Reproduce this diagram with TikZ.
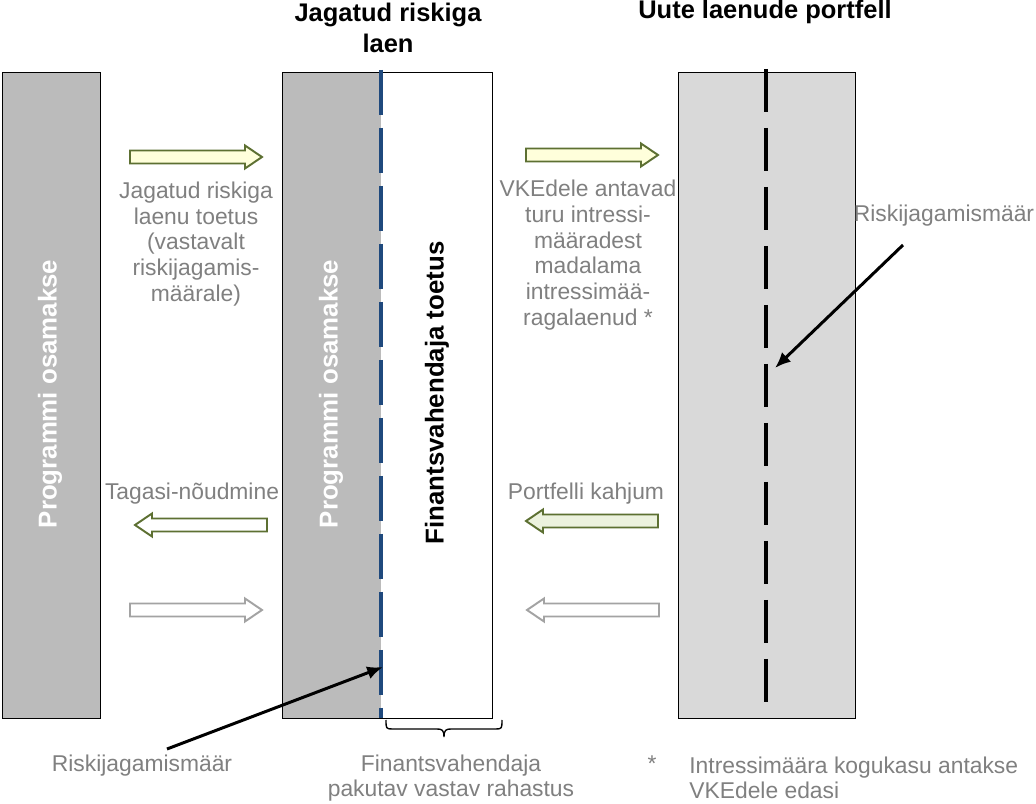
\documentclass[tikz,border=0pt]{standalone}
\usepackage{fontspec}
\setmainfont{Liberation Sans}
\usetikzlibrary{arrows.meta}
\definecolor{riskbardark}{rgb}{0.733,0.733,0.733}
\definecolor{riskbarlight}{rgb}{0.851,0.851,0.851}
\definecolor{riskdashblue}{rgb}{0.122,0.286,0.490}
\definecolor{risktextgray}{rgb}{0.502,0.502,0.502}
\definecolor{riskarrowolive}{rgb}{0.365,0.439,0.196}
\definecolor{riskarrowfill}{rgb}{1.0,1.0,0.86}
\definecolor{riskarrowgreen}{rgb}{0.925,0.950,0.870}
\definecolor{riskarrowgray}{rgb}{0.640,0.640,0.640}
% block arrow: style, direction (1 right, -1 left), tip x, y
\newcommand{\blockarr}[4]{%
\begin{scope}[shift={(#3,#4)},xscale=#2]
\draw[#1] (0,0) -- (-17,-11.5) -- (-17,-6.5) -- (-132,-6.5) -- (-132,6.5) -- (-17,6.5) -- (-17,11.5) -- cycle;
\end{scope}}

\begin{document}
\begin{tikzpicture}[x=0.02cm,y=-0.02cm,
  title/.style={font=\bfseries\fontsize{14.5}{17.6}\selectfont,align=center},
  note/.style={text=risktextgray,font=\fontsize{13}{14.6}\selectfont,align=center,inner sep=0pt},
  vlabel/.style={rotate=90,font=\bfseries\fontsize{14.7}{17}\selectfont,inner sep=0pt},
  olivearr/.style={draw=riskarrowolive,fill=riskarrowfill,line width=1.1pt,line join=miter},
  olivewhite/.style={draw=riskarrowolive,fill=white,line width=1.1pt,line join=miter},
  olivegreen/.style={draw=riskarrowolive,fill=riskarrowgreen,line width=1.1pt,line join=miter},
  grayarr/.style={draw=riskarrowgray,fill=white,line width=1.1pt,line join=miter},
  callout/.style={line width=1.7pt,-{Latex[length=9pt,width=7.5pt]}}]
\useasboundingbox (0,0) rectangle (1036,804);
\fill[white] (0,0) rectangle (1036,804);
% columns
\fill[riskbardark] (2,72) rectangle (100,718);
\draw[black,line width=0.5pt] (2,72) rectangle (100,718);
\fill[riskbardark] (282,72) rectangle (381,718);
\draw[black,line width=0.5pt] (282,72) rectangle (492,718);
\fill[riskbarlight] (678,72) rectangle (855,718);
\draw[black,line width=0.5pt] (678,72) rectangle (855,718);
\draw[riskdashblue,line width=2.3pt,dash pattern=on 0.9cm off 0.26cm] (381,70) -- (381,718);
\draw[black,line width=2.8pt,dash pattern=on 0.86cm off 0.32cm] (766,69) -- (766,706);
% titles
\node[title] (tmid) at (388,28) {Jagatud riskiga\\laen};
\node[title] (tright) at (765,12) {Uute laenude portfell};
% vertical labels
\node[vlabel,white] (vleft) at (50,394) {Programmi osamakse};
\node[vlabel,white] (vmid) at (331,394) {Programmi osamakse};
\node[vlabel,black] (vfin) at (437,393) {Finantsvahendaja toetus};
% block arrows
\blockarr{olivearr}{1}{262}{157}
\blockarr{olivearr}{1}{658}{155}
\blockarr{olivewhite}{-1}{135}{525}
\blockarr{olivegreen}{-1}{526}{521}
\blockarr{grayarr}{1}{262}{610}
\blockarr{grayarr}{-1}{527}{610}
% notes
\node[note] (ntoetus) at (196,244) {Jagatud riskiga\\laenu toetus\\(vastavalt\\riskijagamis-\\määrale)};
\node[note] (nvke) at (588,255) {VKEdele antavad\\turu intressi-\\määradest\\madalama\\intressimää-\\ragalaenud *};
\node[note] (ntagasi) at (192,494) {Tagasi-nõudmine};
\node[note] (nkahjum) at (586,494) {Portfelli kahjum};
\node[note] (nriskR) at (944,216) {Riskijagamismäär};
\node[note] (nriskL) at (142,766) {Riskijagamismäär};
\node[note] (nfin) at (451,778) {Finantsvahendaja\\pakutav vastav rahastus};
\node[note] (nstar) at (652,764) {*};
\node[note,align=left,anchor=west] (nintr) at (689,778) {Intressimäära kogukasu antakse\\VKEdele edasi};
% brace
\draw[black,line width=0.8pt] (386,720) .. controls (386,728) and (386,729) .. (392,729) -- (437,729) .. controls (442,729) and (444,730) .. (444,737) .. controls (444,730) and (446,729) .. (451,729) -- (496,729) .. controls (502,729) and (502,728) .. (502,720);
% callouts
\coordinate (cRtail) at (903,245);
\coordinate (cRtip) at (775,368);
\coordinate (cLtail) at (167,749);
\coordinate (cLtip) at (383,667);
\draw[callout] (cRtail) -- (cRtip);
\draw[callout] (cLtail) -- (cLtip);
\end{tikzpicture}
\end{document}
